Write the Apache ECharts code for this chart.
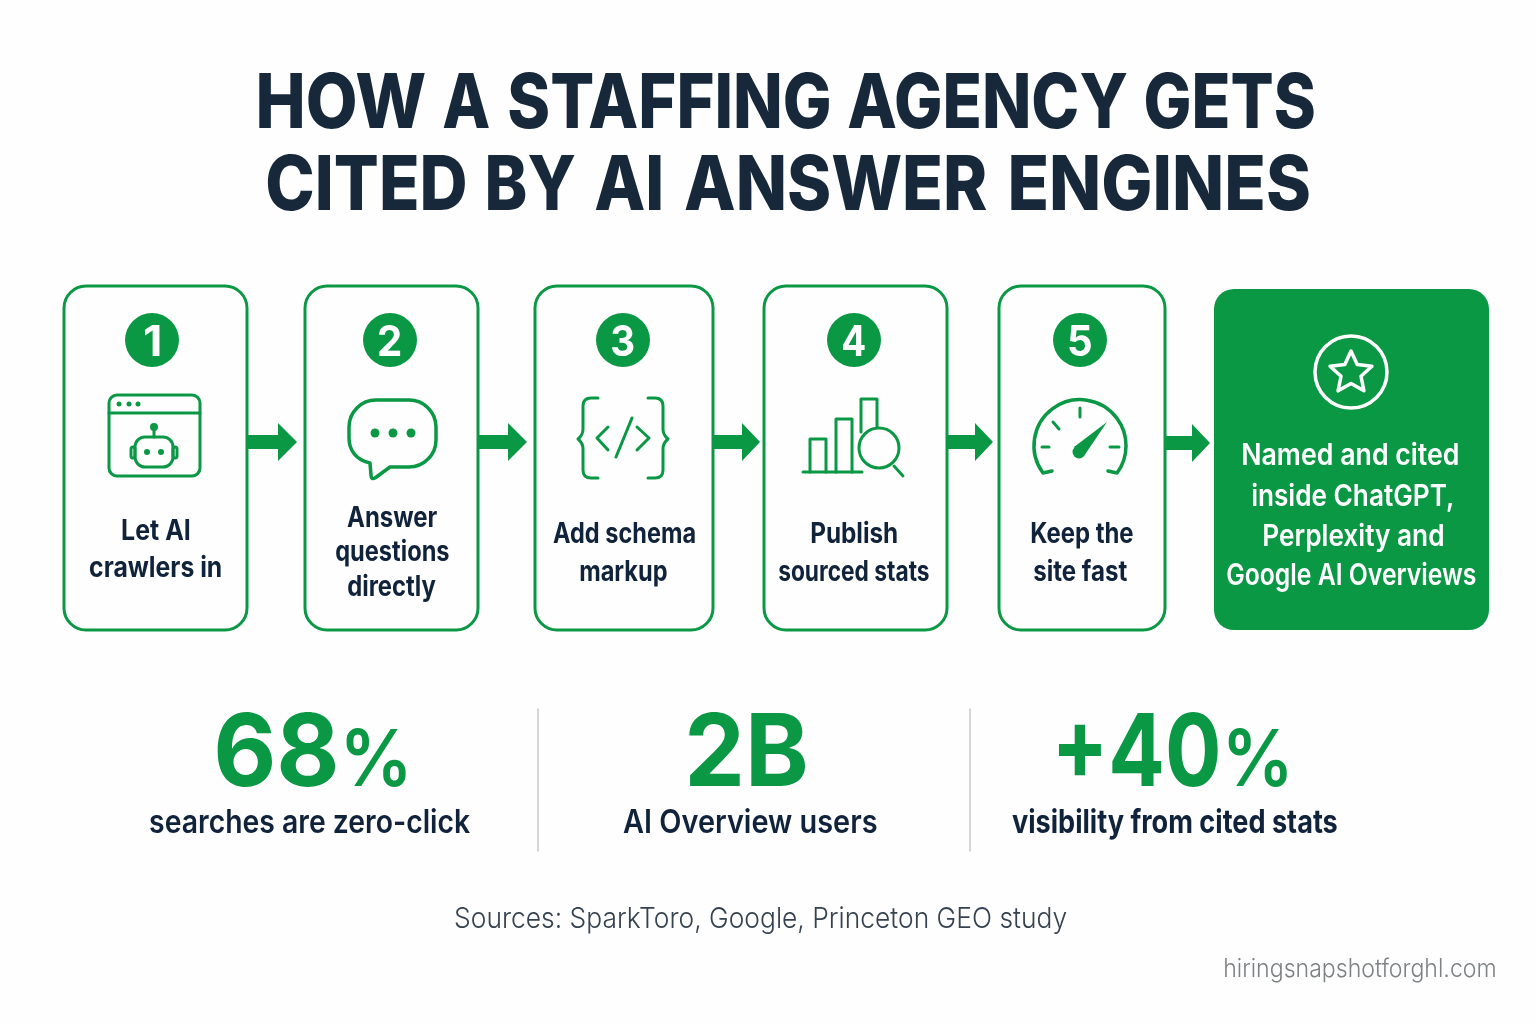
<!DOCTYPE html>
<html>
  <head>
    <meta charset="utf-8" />
    <title>How a staffing agency gets cited</title>
    <script src="https://cdn.jsdelivr.net/npm/echarts@6/dist/echarts.min.js"></script>
    <style>
      html, body { margin: 0; padding: 0; background: #fefefe; }
    </style>
  </head>
  <body>
    <div id="main" style="width: 1536px;height:1024px;"></div>
    <script type="text/javascript">
      // texts of the chart
      var titleLines = [['HOW', 'A', 'STAFFING', 'AGENCY', 'GETS'], ['CITED', 'BY', 'AI', 'ANSWER', 'ENGINES']];
      var stepNumbers = ['1', '2', '3', '4', '5'];
      var stepLabels = [
        ['Let AI', 'crawlers in'],
        ['Answer', 'questions', 'directly'],
        ['Add schema', 'markup'],
        ['Publish', 'sourced stats'],
        ['Keep the', 'site fast']
      ];
      var resultLabels = ['Named and cited', 'inside ChatGPT,', 'Perplexity and', 'Google AI Overviews'];
      var statValues = ['68', '2B', '+40'];
      var statUnits = ['%', '', '%'];
      var statLabels = ['searches are zero-click', 'AI Overview users', 'visibility from cited stats'];
      var sourceLine = 'Sources: SparkToro, Google, Princeton GEO study';
      var siteLine = 'hiringsnapshotforghl.com';

      // layout, [left, right] in px
      var GREEN = '#0b9845', INK = '#11233a', TITLE_INK = '#17283a', FONT = 'Inter';
      var titleBoxes = [
        [[259, 425], [443, 489], [509, 829], [848, 1127], [1146, 1314]],
        [[268, 465], [488, 575], [595, 661], [685, 987], [1011, 1309]]
      ];
      var titleBaselines = [128, 210];
      var cardBoxes = [[63, 248], [304, 479], [534, 714], [763, 948], [998, 1166]];
      var badgeX = [152, 390, 623, 854, 1080];
      var arrowBoxes = [[248, 278, 297], [479, 508, 527], [714, 742, 760], [948, 975, 993], [1165, 1192, 1210]];
      var labelBoxes = [
        [[122, 190, 540], [90, 221, 577]],
        [[347, 437, 527], [336, 449, 561], [348, 436, 596]],
        [[553, 695, 543], [580, 667, 581]],
        [[811, 897, 543], [779, 929, 581]],
        [[1031, 1133, 543], [1034, 1127, 581]]
      ];
      var resultBoxes = [[1243, 1458, 465], [1252, 1453, 506], [1264, 1443, 546], [1227, 1476, 585]];
      var statValueBoxes = [[217, 336], [689, 805], [1059, 1218]];
      var statUnitBoxes = [[346, 406], null, [1228, 1287]];
      var statLabelBoxes = [[150, 470], [623, 877], [1012, 1337]];
      var statLabelWeights = [600, 600, 700];

      var ctx = document.createElement('canvas').getContext('2d');

      // text from left to right edge, squeezed to that width, y is the baseline
      function fitText(str, left, right, y, size, weight, color) {
        var font = weight + ' ' + size + 'px ' + FONT;
        ctx.font = font;
        ctx.textBaseline = 'middle';
        var m = ctx.measureText(str);
        var h = ctx.measureText('H');
        var sx = (right - left) / (m.actualBoundingBoxLeft + m.actualBoundingBoxRight);
        return {
          type: 'text',
          x: (left + right) / 2 - sx * (m.actualBoundingBoxRight - m.actualBoundingBoxLeft) / 2 + sx * m.width / 2,
          y: y - h.actualBoundingBoxDescent,
          scaleX: sx,
          style: { text: str, x: 0, y: 0, font: font, fill: color, align: 'center', verticalAlign: 'middle' }
        };
      }
      function stroke(d, w, color) {
        return {
          type: 'path',
          shape: { pathData: d },
          style: { fill: 'none', stroke: color || GREEN, lineWidth: w || 3, lineCap: 'round', lineJoin: 'round' }
        };
      }
      function dot(cx, cy, r, color) {
        return { type: 'circle', shape: { cx: cx, cy: cy, r: r }, style: { fill: color || GREEN } };
      }
      function roundBox(x, y, w, h, r) {
        return {
          type: 'rect',
          shape: { x: x, y: y, width: w, height: h, r: r },
          style: { fill: 'none', stroke: GREEN, lineWidth: 3 }
        };
      }

      var icons = [
        function () { // browser with robot
          return [
            roundBox(109, 395, 91, 81, 8),
            stroke('M109 413 H200'),
            dot(119, 404, 2.5), dot(129, 404, 2.5), dot(138, 404, 2.5),
            roundBox(135, 437, 38, 30, 10),
            roundBox(131, 447, 4, 11, 2), roundBox(173, 447, 4, 11, 2),
            stroke('M154 437 V429'), dot(154, 427, 4),
            dot(147, 452, 3), dot(161, 452, 3)
          ];
        },
        function () { // speech bubble
          return [
            stroke('M376 400 H409 A27 27 0 0 1 436 427 V440 A27 27 0 0 1 409 467 H390 L375 478 Q371 480 371 475 L370 463 C356 460 349 450 349 438 V427 A27 27 0 0 1 376 400 Z', 3.5),
            dot(375, 433, 4.5), dot(393, 433, 4.5), dot(411, 433, 4.5)
          ];
        },
        function () { // code braces
          return [
            stroke('M598 398 H591 Q583 398 583 406 V429 Q583 435 578 439 Q583 443 583 449 V470 Q583 478 591 478 H598'),
            stroke('M648 398 H655 Q663 398 663 406 V429 Q663 435 668 439 Q663 443 663 449 V470 Q663 478 655 478 H648'),
            stroke('M608 427 L597 438 L608 450'),
            stroke('M637 427 L649 438 L637 450'),
            stroke('M632 418 L616 457')
          ];
        },
        function () { // bars and magnifier
          return [
            stroke('M803 472 H862'),
            stroke('M810 472 V439 H826 V472'),
            stroke('M836 472 V419 H852 V472'),
            stroke('M861 432 V399 H877 V427'),
            { type: 'circle', shape: { cx: 879, cy: 448, r: 20 }, style: { fill: 'none', stroke: GREEN, lineWidth: 3 } },
            stroke('M894 466 L903 476')
          ];
        },
        function () { // speed gauge
          return [
            stroke('M1052 471 L1043 473 A46 46 0 1 1 1117 473 L1108 471', 3.5),
            stroke('M1080 408 V417'), stroke('M1053 422 L1059 429'),
            stroke('M1042 447 H1049'), stroke('M1110 447 H1119'),
            { type: 'polygon', shape: { points: [[1107, 422], [1084, 456], [1074, 447]] }, style: { fill: GREEN } },
            dot(1079, 452, 6.5)
          ];
        }
      ];

      function renderFrame() {
        var kids = [];
        titleLines.forEach(function (words, l) {
          words.forEach(function (w, k) {
            kids.push(fitText(w, titleBoxes[l][k][0], titleBoxes[l][k][1], titleBaselines[l], 76, 800, TITLE_INK));
          });
        });
        // result card
        kids.push(
          { type: 'rect', shape: { x: 1214, y: 289, width: 275, height: 341, r: 20 }, style: { fill: GREEN } },
          { type: 'circle', shape: { cx: 1351, cy: 372, r: 36 }, style: { fill: 'none', stroke: '#fff', lineWidth: 3.5 } }
        );
        var star = [];
        for (var i = 0; i < 10; i++) {
          var r = i % 2 ? 10.5 : 22, a = -Math.PI / 2 + i * Math.PI / 5;
          star.push([1351 + r * Math.cos(a), 373 + r * Math.sin(a)]);
        }
        kids.push({ type: 'polygon', shape: { points: star }, style: { fill: 'none', stroke: '#fff', lineWidth: 3.5, lineJoin: 'round' } });
        resultLabels.forEach(function (s, i) {
          kids.push(fitText(s, resultBoxes[i][0], resultBoxes[i][1], resultBoxes[i][2], 30, 600, '#fff'));
        });
        // dividers
        kids.push(stroke('M538 709 V851', 1.5, '#c9c9c9'), stroke('M970 709 V851', 1.5, '#c9c9c9'));
        kids.push(fitText(sourceLine, 455, 1067, 928, 29, 300, '#36424f'));
        kids.push(fitText(siteLine, 1225, 1495, 977, 25, 300, '#7d8184'));
        return { type: 'group', children: kids };
      }

      function renderStep(params) {
        var i = params.dataIndex, box = cardBoxes[i], ar = arrowBoxes[i];
        var tipY = i === 4 ? 443 : 442;
        var kids = [
          roundBox(box[0] + 1, 286, box[1] - box[0] - 2, 344, 22),
          {
            type: 'polygon',
            shape: { points: [[ar[0], tipY - 7], [ar[1], tipY - 7], [ar[1], tipY - 19], [ar[2], tipY], [ar[1], tipY + 19], [ar[1], tipY + 7], [ar[0], tipY + 7]] },
            style: { fill: GREEN }
          },
          dot(badgeX[i], 340, 27),
          fitText(stepNumbers[i], badgeX[i] - (i === 0 ? 8 : 11), badgeX[i] + (i === 0 ? 8 : 11), 356, 42, 700, '#fff')
        ].concat(icons[i]());
        stepLabels[i].forEach(function (s, j) {
          var b = labelBoxes[i][j];
          kids.push(fitText(s, b[0], b[1], b[2], 28, 700, INK));
        });
        return { type: 'group', children: kids };
      }

      function renderStat(params) {
        var i = params.dataIndex;
        var kids = [
          fitText(statValues[i], statValueBoxes[i][0], statValueBoxes[i][1], 786, 101, 700, GREEN),
          fitText(statLabels[i], statLabelBoxes[i][0], statLabelBoxes[i][1], 833, 32, statLabelWeights[i], INK)
        ];
        if (statUnits[i]) {
          kids.push(fitText(statUnits[i], statUnitBoxes[i][0], statUnitBoxes[i][1], 786, 79, 600, GREEN));
        }
        return { type: 'group', children: kids };
      }

      var myChart = echarts.init(document.getElementById('main'));
      myChart.setOption({
        backgroundColor: '#fefefe',
        animation: false,
        series: [
          { type: 'custom', coordinateSystem: 'none', silent: true, data: [0], renderItem: renderFrame },
          { type: 'custom', coordinateSystem: 'none', silent: true, data: stepNumbers, renderItem: renderStep },
          { type: 'custom', coordinateSystem: 'none', silent: true, data: statValues, renderItem: renderStat }
        ]
      });
    </script>
  </body>
</html>
